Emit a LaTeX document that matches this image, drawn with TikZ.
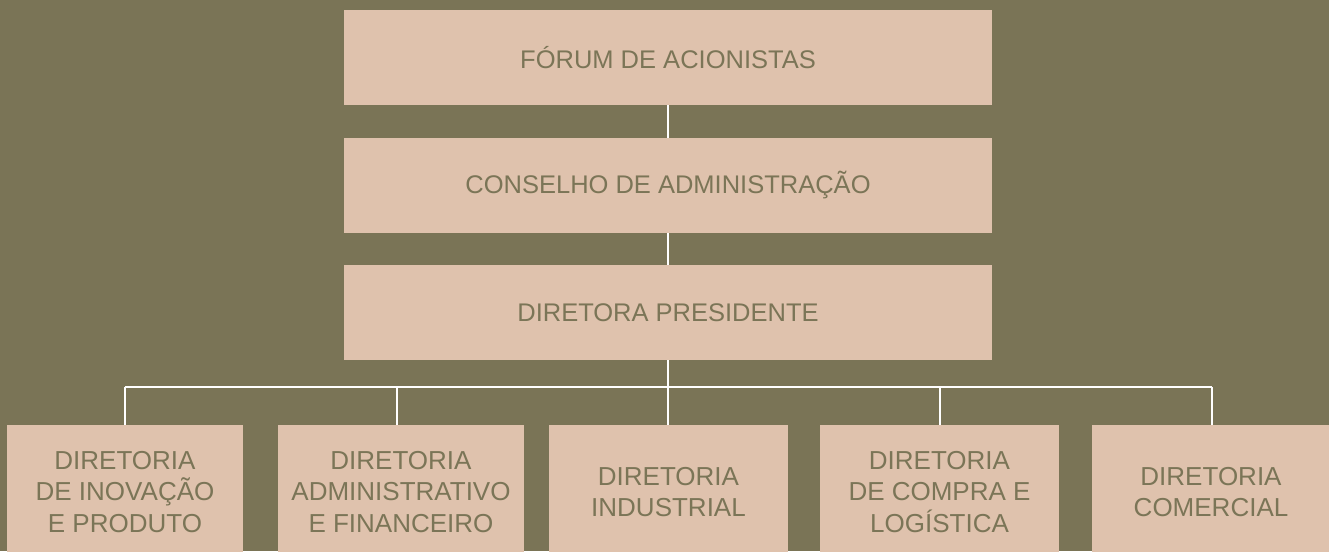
\documentclass[tikz,border=0pt]{standalone}
\usepackage{fontspec}
\setmainfont{Liberation Sans}
\definecolor{bgolive}{HTML}{7A7456}
\definecolor{boxpink}{HTML}{DFC2AD}
\definecolor{txtolive}{HTML}{7B7557}
\tikzset{
  topbox/.style={fill=boxpink, draw=none, minimum width=648pt, minimum height=95pt, inner sep=0pt,
    text=txtolive, font=\fontsize{25.5}{30}\selectfont},
  dirbox/.style={fill=boxpink, draw=none, minimum height=134pt, inner sep=0pt, align=center,
    text=txtolive, font=\fontsize{26}{31.7}\selectfont},
  link/.style={draw=white, line width=2pt}
}
\begin{document}
\begin{tikzpicture}[x=1pt,y=-1pt]
\useasboundingbox (0,0) rectangle (1329,551);
\fill[bgolive] (0,0) rectangle (1329,551);
\node[topbox] (forum) at (668,57.5) {FÓRUM DE ACIONISTAS};
\node[topbox] (conselho) at (668,185.5) {CONSELHO DE ADMINISTRAÇÃO};
\node[topbox] (pres) at (668,312.5) {DIRETORA PRESIDENTE};
\node[dirbox, minimum width=236pt] (d1) at (125,492) {DIRETORIA\\DE INOVAÇÃO\\E PRODUTO};
\node[dirbox, minimum width=246pt] (d2) at (401,492) {DIRETORIA\\ADMINISTRATIVO\\E FINANCEIRO};
\node[dirbox, minimum width=239pt] (d3) at (668.5,492) {DIRETORIA\\INDUSTRIAL};
\node[dirbox, minimum width=239pt] (d4) at (939.5,492) {DIRETORIA\\DE COMPRA E\\LOGÍSTICA};
\node[dirbox, minimum width=238pt] (d5) at (1211,492) {DIRETORIA\\COMERCIAL};
\coordinate (bus) at (668,387);
\coordinate (t1) at (125,387);
\coordinate (t2) at (397,387);
\coordinate (t3) at (668,387);
\coordinate (t4) at (940,387);
\coordinate (t5) at (1212,387);
\draw[link] (forum.south) -- (conselho.north);
\draw[link] (conselho.south) -- (pres.north);
\draw[link] (pres.south) -- (bus);
\draw[link] (t1) -- (t5);
\draw[link] (t1) -- (t1 |- d1.north);
\draw[link] (t2) -- (t2 |- d2.north);
\draw[link] (t3) -- (t3 |- d3.north);
\draw[link] (t4) -- (t4 |- d4.north);
\draw[link] (t5) -- (t5 |- d5.north);
\end{tikzpicture}
\end{document}
